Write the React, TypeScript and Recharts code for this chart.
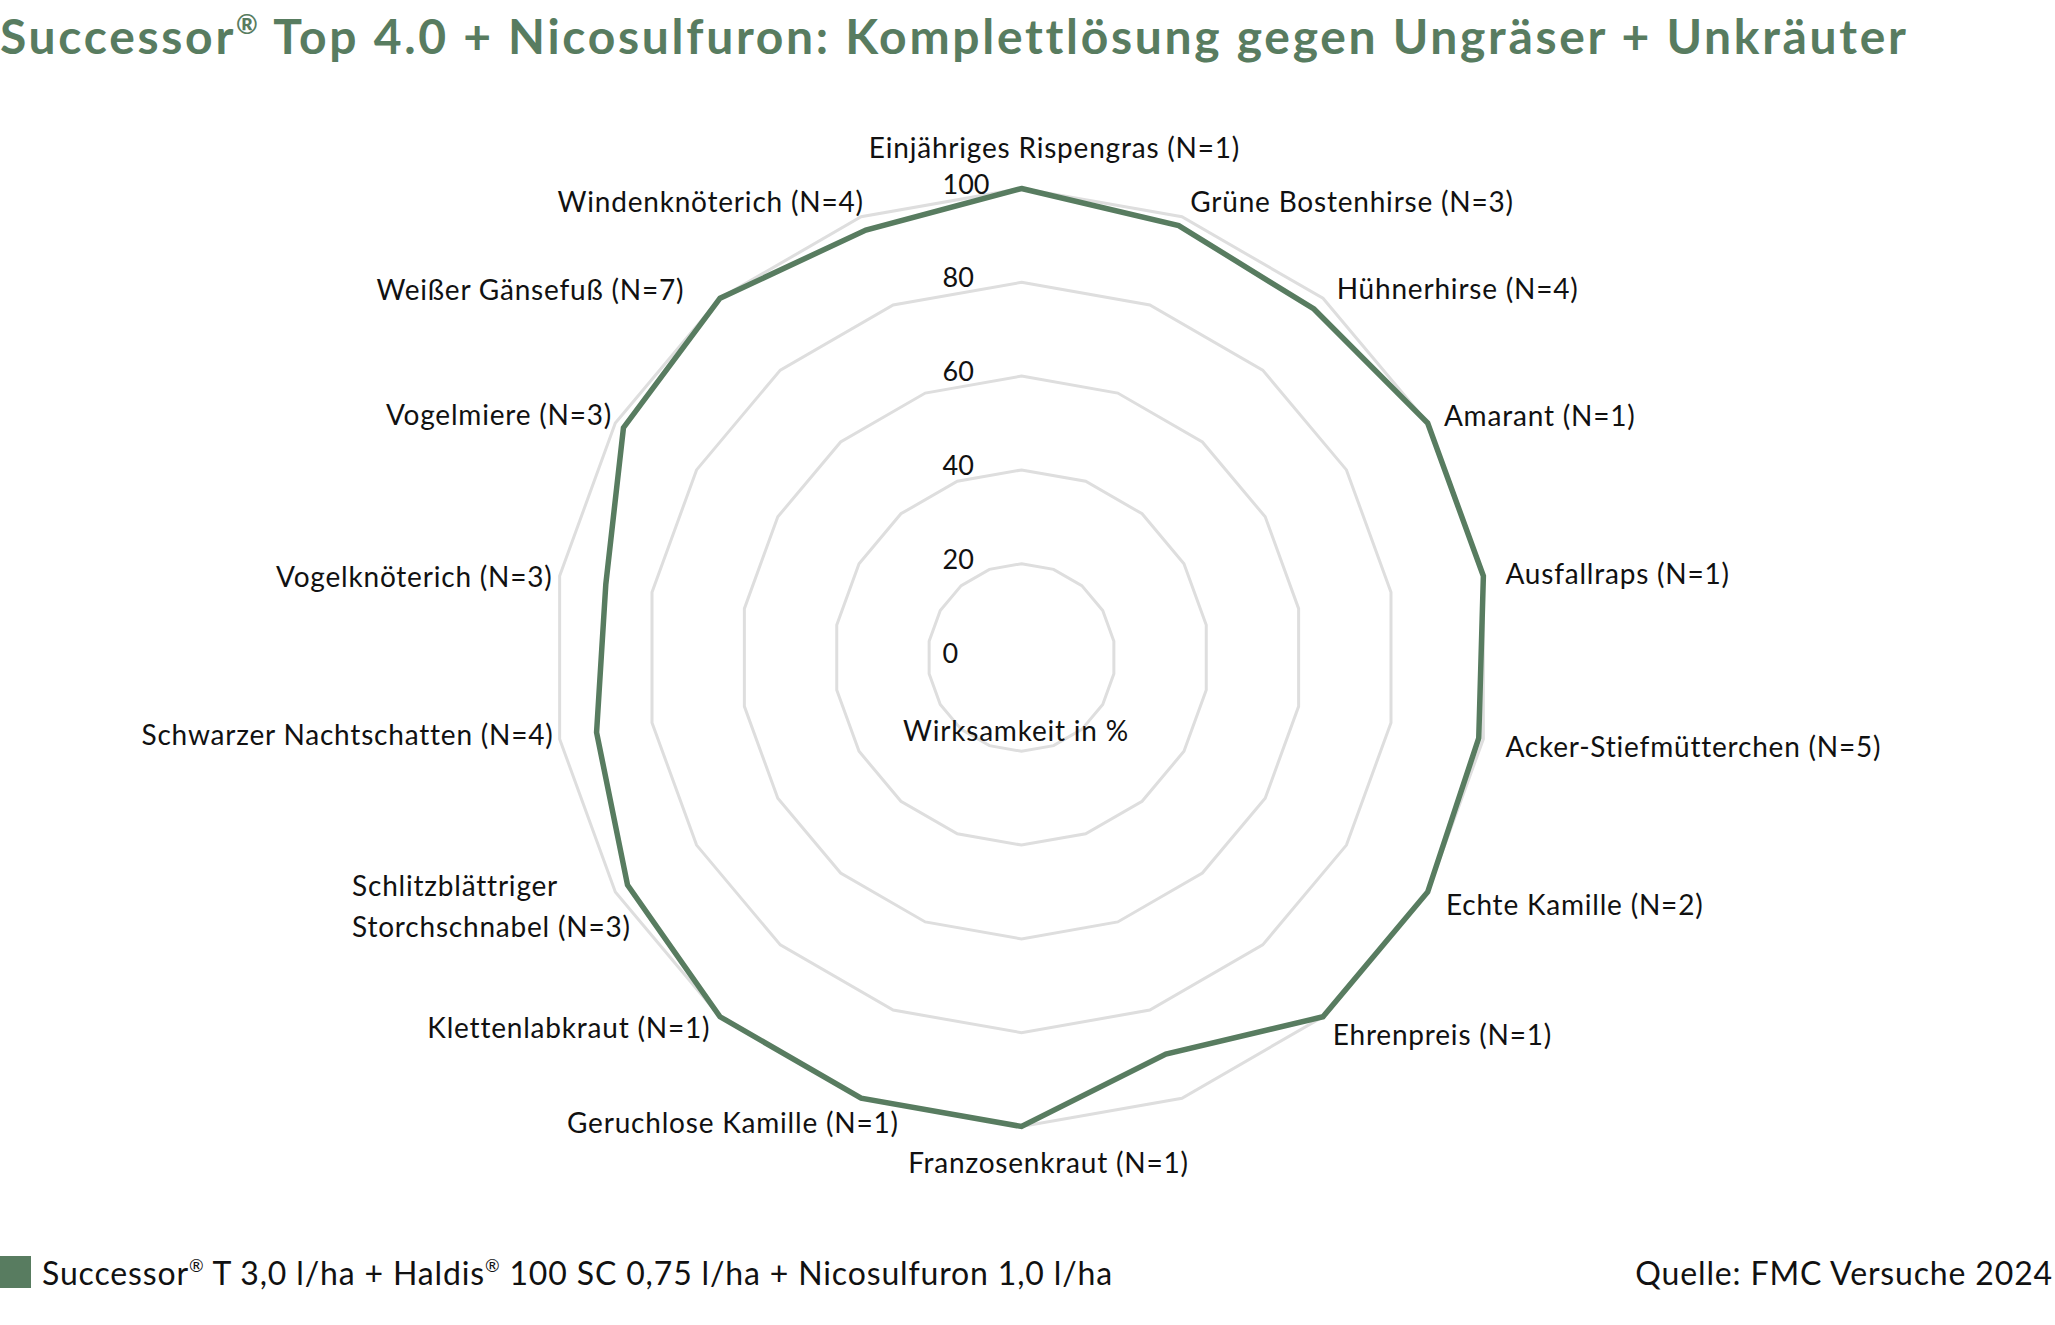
import React from 'react';
import { RadarChart, Radar, PolarGrid, PolarAngleAxis, PolarRadiusAxis } from 'recharts';

const TITLE = 'Successor® Top 4.0 + Nicosulfuron: Komplettlösung gegen Ungräser + Unkräuter';
const SERIES_NAME = 'Successor® T 3,0 l/ha + Haldis® 100 SC 0,75 l/ha + Nicosulfuron 1,0 l/ha';
const SOURCE = 'Quelle: FMC Versuche 2024';
const AXIS_TITLE = 'Wirksamkeit in %';

// clockwise from the top; one spoke has no label in the original
const weeds = [
  'Einjähriges Rispengras (N=1)',
  'Grüne Bostenhirse (N=3)',
  'Hühnerhirse (N=4)',
  'Amarant (N=1)',
  'Ausfallraps (N=1)',
  'Acker-Stiefmütterchen (N=5)',
  'Echte Kamille (N=2)',
  'Ehrenpreis (N=1)',
  '',
  'Franzosenkraut (N=1)',
  'Geruchlose Kamille (N=1)',
  'Klettenlabkraut (N=1)',
  'Schlitzblättriger\nStorchschnabel (N=3)',
  'Schwarzer Nachtschatten (N=4)',
  'Vogelknöterich (N=3)',
  'Vogelmiere (N=3)',
  'Weißer Gänsefuß (N=7)',
  'Windenknöterich (N=4)',
];

const efficacy = [100, 98, 97, 100, 100, 99, 100, 100, 90, 100, 100, 100, 97, 92, 90, 98, 100, 97];

const radiusTicks = [0, 20, 40, 60, 80, 100];

const GREEN = '#587c60';
const GRID = '#dedede';
const FONT = 'Lato, "Open Sans", sans-serif';
const CX = 1021.5;
const CY = 657.5;

// label placement relative to the spoke end, Excel puts them a bit irregularly
const LABEL_NUDGE: [number, number, 'start' | 'middle' | 'end'][] = [
  [33, -44, 'middle'],
  [9, -18, 'start'],
  [15, -12, 'start'],
  [18, -9, 'start'],
  [24, -3, 'start'],
  [24, 7, 'start'],
  [20, 13, 'start'],
  [11, 19, 'start'],
  [0, 0, 'start'],
  [27, 37, 'middle'],
  [37, 26, 'end'],
  [-11, 12, 'end'],
  [-265, 14, 'start'],
  [-8, -5, 'end'],
  [-9, 0, 'end'],
  [-5, -10, 'end'],
  [-37, -11, 'end'],
  [2, -18, 'end'],
];

const data = weeds.map((name, i) => ({ name, value: efficacy[i] }));

const withReg = (text: string) =>
  text.split('®').map((part, i, arr) => (
    <React.Fragment key={i}>
      {part}
      {i < arr.length - 1 && <span style={{ fontSize: '0.55em', verticalAlign: '0.75em' }}>®</span>}
    </React.Fragment>
  ));

const AngleTick = ({ x, y, payload, index }: any) => {
  const label: string = payload.value;
  if (!label) return null;
  const [dx, dy, anchor] = LABEL_NUDGE[index] ?? [0, 0, 'middle'];
  // pull the tick point back onto the outer ring
  const len = Math.hypot(x - CX, y - CY) || 1;
  const bx = x - ((x - CX) / len) * 10;
  const by = y - ((y - CY) / len) * 10;
  const lines = label.split('\n');
  const lh = 41;
  const x0 = bx + dx;
  const y0 = by + dy - ((lines.length - 1) * lh) / 2;
  return (
    <text x={x0} y={y0} textAnchor={anchor} fontFamily={FONT} fontSize={28} letterSpacing={0.8} fill="#111">
      {lines.map((l, i) => (
        <tspan key={i} x={x0} y={y0 + i * lh} dominantBaseline="central">
          {l}
        </tspan>
      ))}
    </text>
  );
};

const RadiusTick = ({ x, y, payload }: any) => (
  <text x={x - 79} y={y + 5} textAnchor="start" fontFamily={FONT} fontSize={27} fill="#111">
    {payload.value}
  </text>
);

export default function App() {
  return (
    <div style={{ position: 'absolute', left: 0, top: 0, width: 2055, height: 1325, background: '#fff', fontFamily: FONT }}>
      <div
        style={{
          position: 'absolute', left: 0, top: 11, fontSize: 48, lineHeight: 1, letterSpacing: 2.7,
          fontWeight: 700, color: GREEN, whiteSpace: 'nowrap',
        }}
      >
        {withReg(TITLE)}
      </div>

      <div style={{ position: 'absolute', left: 0, top: 0 }}>
        <RadarChart
          width={2055}
          height={1325}
          data={data}
          cx={CX}
          cy={CY}
          outerRadius={469}
          margin={{ top: 0, right: 0, bottom: 0, left: 0 }}
        >
          <PolarGrid gridType="polygon" radialLines={false} stroke={GRID} strokeWidth={3} />
          <PolarAngleAxis dataKey="name" tick={<AngleTick />} tickLine={false} axisLine={false} />
          <PolarRadiusAxis
            angle={90}
            domain={[0, 100]}
            ticks={radiusTicks}
            tick={<RadiusTick />}
            axisLine={false}
            tickLine={false}
          />
          <Radar
            name={SERIES_NAME}
            dataKey="value"
            stroke={GREEN}
            strokeWidth={5.5}
            fill="none"
            fillOpacity={0}
            dot={false}
            isAnimationActive={false}
          />
        </RadarChart>
      </div>

      <div
        style={{
          position: 'absolute', left: 1016, top: 716, transform: 'translateX(-50%)',
          fontSize: 28, lineHeight: 1, letterSpacing: 0.8, color: '#111', whiteSpace: 'nowrap',
        }}
      >
        {AXIS_TITLE}
      </div>

      <div style={{ position: 'absolute', left: 0, top: 1256, width: 31, height: 32, background: GREEN }} />
      <div
        style={{
          position: 'absolute', left: 42, top: 1257, fontSize: 32, lineHeight: 1, letterSpacing: 0.85,
          color: '#111', whiteSpace: 'nowrap',
        }}
      >
        {withReg(SERIES_NAME)}
      </div>
      <div
        style={{
          position: 'absolute', right: 2, top: 1257, fontSize: 32, lineHeight: 1, letterSpacing: 0.85,
          color: '#111', whiteSpace: 'nowrap',
        }}
      >
        {SOURCE}
      </div>
    </div>
  );
}
